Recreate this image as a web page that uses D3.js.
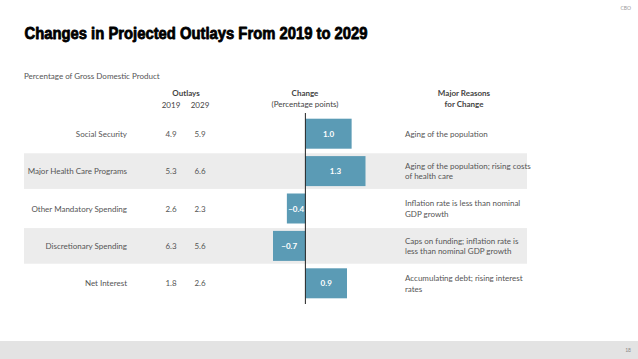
<!DOCTYPE html>
<html><head><meta charset="utf-8">
<script src="https://cdn.jsdelivr.net/npm/d3@7"></script>
<style>
html,body{margin:0;padding:0;background:#fff;}
svg{display:block;font-family:"Lato","Open Sans",sans-serif;}
</style></head>
<body><svg id="c" width="638" height="359"></svg>
<script>
const categories = ["Social Security","Major Health Care Programs","Other Mandatory Spending","Discretionary Spending","Net Interest"];
const outlays2019 = [4.9, 5.3, 2.6, 6.3, 1.8];
const outlays2029 = [5.9, 6.6, 2.3, 5.6, 2.6];
const changes = [1.0, 1.3, -0.4, -0.7, 0.9];
const reasons = [
  ["Aging of the population"],
  ["Aging of the population; rising costs","of health care"],
  ["Inflation rate is less than nominal","GDP growth"],
  ["Caps on funding; inflation rate is","less than nominal GDP growth"],
  ["Accumulating debt; rising interest","rates"]
];

const svg = d3.select("#c");
const gray = "#555";

// footer
svg.append("rect").attr("x",0).attr("y",341).attr("width",638).attr("height",18).attr("fill","#e3e3e3");
svg.append("text").attr("x",631).attr("y",352).attr("text-anchor","end").attr("font-size",5).attr("fill","#888").text("18");
svg.append("text").attr("x",631).attr("y",10).attr("text-anchor","end").attr("font-size",5).attr("fill","#999").text("CBO");

// title
svg.append("text").attr("x",24.5).attr("y",39).attr("font-family","'Liberation Sans',Arial,sans-serif")
  .attr("font-weight",900).attr("font-size",16.5).attr("fill","#000")
  .attr("stroke","#000").attr("stroke-width",0.8).attr("stroke-linejoin","round")
  .attr("textLength",343).attr("lengthAdjust","spacingAndGlyphs")
  .text("Changes in Projected Outlays From 2019 to 2029");

svg.append("text").attr("x",24).attr("y",79).attr("font-size",8).attr("fill",gray).text("Percentage of Gross Domestic Product");

// headers
const hdr = (x,y,t,w)=>svg.append("text").attr("x",x).attr("y",y).attr("text-anchor","middle").attr("font-size",8)
  .attr("font-weight",w||"normal").attr("fill","#444").text(t);
hdr(186,96,"Outlays","bold");
hdr(171,108,"2019");
hdr(200,108,"2029");
hdr(305,96,"Change","bold");
hdr(305,107,"(Percentage points)");
hdr(464,96,"Major Reasons","bold");
hdr(464,107,"for Change","bold");

// scales
const y = d3.scaleBand().domain(categories).range([115,302]).paddingInner(0).paddingOuter(0);
const x = d3.scaleLinear().domain([-0.7,1.3]).range([273,365.5]);

// bands
svg.selectAll("rect.band").data(categories.filter((d,i)=>i%2===1)).join("rect")
  .attr("class","band").attr("x",24).attr("width",503)
  .attr("y",d=>y(d)+y.bandwidth()/2-17.8).attr("height",35.6).attr("fill","#ececec");

// category labels & values
categories.forEach((c,i)=>{
  const cy = y(c)+y.bandwidth()/2+3;
  svg.append("text").attr("x",127).attr("y",cy).attr("text-anchor","end").attr("font-size",8).attr("fill",gray).text(c);
  svg.append("text").attr("x",171).attr("y",cy).attr("text-anchor","middle").attr("font-size",8).attr("fill",gray).text(d3.format(".1f")(outlays2019[i]));
  svg.append("text").attr("x",200).attr("y",cy).attr("text-anchor","middle").attr("font-size",8).attr("fill",gray).text(d3.format(".1f")(outlays2029[i]));
  const lines = reasons[i];
  const t = svg.append("text").attr("x",405).attr("font-size",8).attr("fill",gray);
  const y0 = cy - (lines.length-1)*10.6/2;
  lines.forEach((l,j)=>t.append("tspan").attr("x",405).attr("y",y0+j*10.6).text(l));
});

// bars
const barH = 30;
svg.selectAll("rect.bar").data(changes).join("rect").attr("class","bar")
  .attr("x",d=>x(Math.min(0,d))).attr("width",d=>Math.abs(x(d)-x(0)))
  .attr("y",(d,i)=>y(categories[i])+y.bandwidth()/2-barH/2).attr("height",barH)
  .attr("fill","#5b9bb5");
svg.selectAll("text.bl").data(changes).join("text").attr("class","bl")
  .attr("x",d=>(x(d)+x(0))/2).attr("y",(d,i)=>y(categories[i])+y.bandwidth()/2+3)
  .attr("text-anchor","middle").attr("font-size",8).attr("font-weight","bold").attr("fill","#fff")
  .text(d=>d3.format(".1f")(d).replace("-","\u2212"));

// zero axis
svg.append("line").attr("x1",x(0)).attr("x2",x(0)).attr("y1",113).attr("y2",304).attr("stroke","#222").attr("stroke-width",1);
</script></body></html>
